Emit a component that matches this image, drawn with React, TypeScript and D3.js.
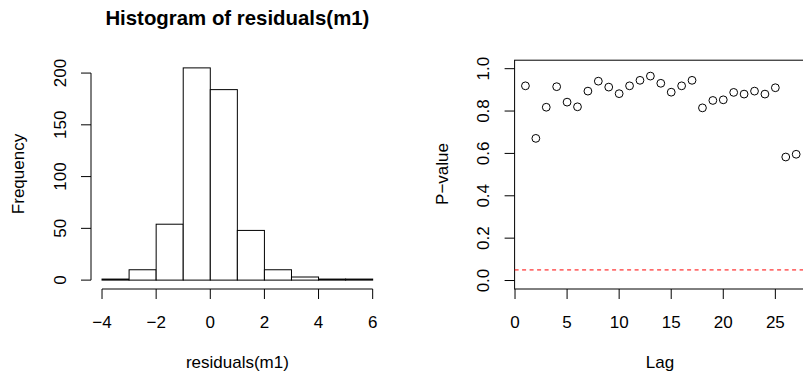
import React from "react";
import * as d3 from "d3";

// Histogram data
const binEdges = [-4, -3, -2, -1, 0, 1, 2, 3, 4, 5, 6];
const binCounts = [1, 10, 54, 205, 184, 48, 10, 3, 1, 1];
const histXTicks = [-4, -2, 0, 2, 4, 6];
const histYTicks = [0, 50, 100, 150, 200];

// Ljung-Box p-values by lag
const lags = [1, 2, 3, 4, 5, 6, 7, 8, 9, 10, 11, 12, 13, 14, 15, 16, 17, 18, 19, 20, 21, 22, 23, 24, 25, 26, 27];
const pValues = [0.919, 0.671, 0.818, 0.915, 0.842, 0.82, 0.894, 0.941, 0.913, 0.882, 0.919, 0.945, 0.965, 0.931, 0.889, 0.919, 0.945, 0.815, 0.85, 0.853, 0.888, 0.88, 0.894, 0.88, 0.91, 0.583, 0.596];
const lagTicks = [0, 5, 10, 15, 20, 25];
const pTicks = [0, 0.2, 0.4, 0.6, 0.8, 1.0];
const threshold = 0.05;

const FONT = "'Liberation Sans', Arial, Helvetica, sans-serif";
const FS = 17;

export default function App() {
  // Histogram panel
  const hx = d3.scaleLinear().domain([-4.4, 6.4]).range([91.2, 383.5]);
  const hy = d3.scaleLinear().domain([-8.2, 213.2]).range([288.6, 59.4]);
  const axisY = 289;
  const tick = 10;

  // P-value panel
  const px = d3.scaleLinear().domain([-0.04, 28.04]).range([514.6, 807.0]);
  const py = d3.scaleLinear().domain([-0.04, 1.04]).range([289, 60.2]);

  const bars = binCounts.map((c, i) => ({ x0: binEdges[i], x1: binEdges[i + 1], c }));

  return (
    <svg
      width={803}
      height={373}
      style={{ position: "absolute", left: 0, top: 0, background: "#fff" }}
      fontFamily={FONT}
    >
      <rect x={0} y={0} width={803} height={373} fill="#fff" />
      {/* Histogram */}
      <text x={237.4} y={24.5} textAnchor="middle" fontWeight="bold" fontSize={20.4}>
        Histogram of residuals(m1)
      </text>
      {bars.map((b, i) => (
        <rect
          key={i}
          x={hx(b.x0)}
          y={hy(b.c)}
          width={hx(b.x1) - hx(b.x0)}
          height={hy(0) - hy(b.c)}
          fill="#fff"
          stroke="#000"
          strokeWidth={1}
        />
      ))}
      {/* x axis */}
      <line x1={hx(histXTicks[0])} x2={hx(histXTicks[histXTicks.length - 1])} y1={axisY} y2={axisY} stroke="#000" />
      {histXTicks.map((t) => (
        <g key={t}>
          <line x1={hx(t)} x2={hx(t)} y1={axisY} y2={axisY + tick} stroke="#000" />
          <text x={hx(t)} y={328} textAnchor="middle" fontSize={FS}>
            {t < 0 ? "\u2212" + Math.abs(t) : String(t)}
          </text>
        </g>
      ))}
      <text x={237.4} y={367.5} textAnchor="middle" fontSize={FS}>
        residuals(m1)
      </text>
      {/* y axis */}
      <line x1={91} x2={91} y1={hy(histYTicks[0])} y2={hy(histYTicks[histYTicks.length - 1])} stroke="#000" />
      {histYTicks.map((t) => (
        <g key={t}>
          <line x1={91} x2={91 - tick} y1={hy(t)} y2={hy(t)} stroke="#000" />
          <text
            transform={`translate(${66},${hy(t)}) rotate(-90)`}
            textAnchor="middle"
            fontSize={FS}
          >
            {String(t)}
          </text>
        </g>
      ))}
      <text transform={`translate(24,174) rotate(-90)`} textAnchor="middle" fontSize={FS}>
        Frequency
      </text>

      {/* P-value panel */}
      <rect
        x={px(-0.04)}
        y={py(1.04)}
        width={px(28.04) - px(-0.04)}
        height={py(-0.04) - py(1.04)}
        fill="none"
        stroke="#000"
      />
      <line
        x1={px(-0.04)}
        x2={px(28.04)}
        y1={py(threshold)}
        y2={py(threshold)}
        stroke="#ff0000"
        strokeDasharray="4,3.5"
      />
      {lags.map((l, i) => (
        <circle key={l} cx={px(l)} cy={py(pValues[i])} r={3.9} fill="none" stroke="#000" strokeWidth={1} />
      ))}
      {lagTicks.map((t) => (
        <g key={t}>
          <line x1={px(t)} x2={px(t)} y1={py(-0.04)} y2={py(-0.04) + tick} stroke="#000" />
          <text x={px(t)} y={328} textAnchor="middle" fontSize={FS}>
            {String(t)}
          </text>
        </g>
      ))}
      <text x={660} y={368} textAnchor="middle" fontSize={FS}>
        Lag
      </text>
      {pTicks.map((t) => (
        <g key={t}>
          <line x1={px(-0.04)} x2={px(-0.04) - tick} y1={py(t)} y2={py(t)} stroke="#000" />
          <text
            transform={`translate(${489},${py(t)}) rotate(-90)`}
            textAnchor="middle"
            fontSize={FS}
          >
            {t.toFixed(1)}
          </text>
        </g>
      ))}
      <text transform={`translate(448,174) rotate(-90)`} textAnchor="middle" fontSize={FS}>
        P{"\u2212"}value
      </text>
    </svg>
  );
}
